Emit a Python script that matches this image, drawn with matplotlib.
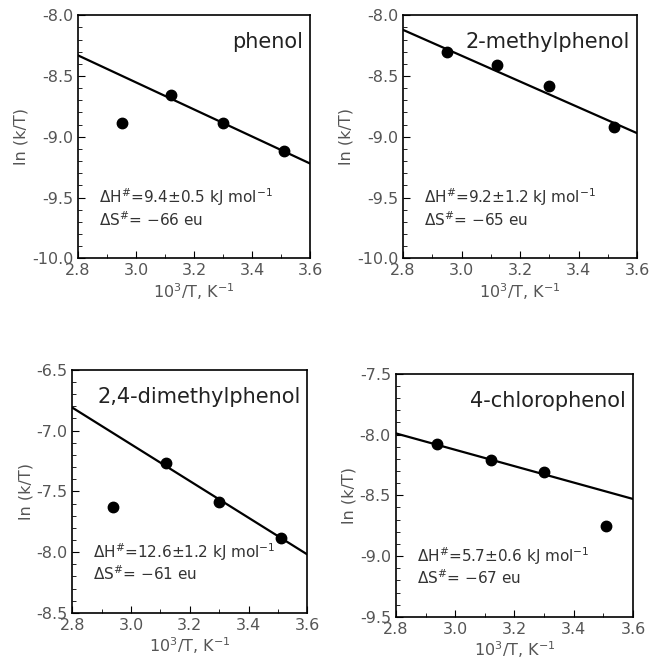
import matplotlib
matplotlib.use('Agg')
import matplotlib.pyplot as plt
from matplotlib.ticker import MultipleLocator, FormatStrFormatter

plt.rcParams['font.family'] = ['DejaVu Sans']

# data
names = ['phenol', '2-methylphenol', '2,4-dimethylphenol', '4-chlorophenol']
x_pts = [
    [2.95, 3.12, 3.30, 3.51],
    [2.95, 3.12, 3.30, 3.52],
    [2.94, 3.12, 3.30, 3.51],
    [2.94, 3.12, 3.30, 3.51],
]
y_pts = [
    [-8.89, -8.66, -8.89, -9.12],
    [-8.30, -8.41, -8.58, -8.92],
    [-7.63, -7.27, -7.59, -7.88],
    [-8.08, -8.21, -8.31, -8.75],
]
line_x = [2.8, 3.6]
line_y = [
    [-8.33, -9.22],
    [-8.12, -8.97],
    [-6.81, -8.02],
    [-7.99, -8.53],
]
y_ranges = [(-10.0, -8.0), (-10.0, -8.0), (-8.5, -6.5), (-9.5, -7.5)]
dH = ['9.4±0.5', '9.2±1.2', '12.6±1.2', '5.7±0.6']
dS = ['−66', '−65', '−61', '−67']

# axes boxes in figure fraction
boxes = [
    [0.120, 0.611, 0.357, 0.366],
    [0.620, 0.611, 0.360, 0.366],
    [0.111, 0.077, 0.362, 0.366],
    [0.609, 0.071, 0.365, 0.366],
]

fig = plt.figure(figsize=(6.5, 6.64), dpi=100)
tick_col = '#555555'

for i in range(4):
    ax = fig.add_axes(boxes[i])
    ax.plot(line_x, line_y[i], color='black', lw=1.6)
    ax.plot(x_pts[i], y_pts[i], 'o', color='black', ms=7.5)
    ax.set_xlim(2.8, 3.6)
    ax.set_ylim(*y_ranges[i])
    ax.xaxis.set_major_locator(MultipleLocator(0.2))
    ax.xaxis.set_minor_locator(MultipleLocator(0.1))
    ax.yaxis.set_major_locator(MultipleLocator(0.5))
    ax.yaxis.set_minor_locator(MultipleLocator(0.1))
    ax.xaxis.set_major_formatter(FormatStrFormatter('%.1f'))
    ax.yaxis.set_major_formatter(FormatStrFormatter('%.1f'))
    ax.tick_params(which='both', direction='in', top=False, right=False,
                   labelsize=11.5, labelcolor=tick_col)
    ax.tick_params(which='major', length=5)
    ax.tick_params(which='minor', length=3)
    for sp in ax.spines.values():
        sp.set_linewidth(1.2)
    ax.set_xlabel('10$^3$/T, K$^{-1}$', fontsize=11.5, color=tick_col, labelpad=2)
    ax.set_ylabel('ln (k/T)', fontsize=11.5, color=tick_col, labelpad=2)
    ax.text(0.97, 0.93, names[i], transform=ax.transAxes, ha='right', va='top',
            fontsize=15, color='#222222')
    ax.text(0.09, 0.25, 'ΔH$^{\\#}$=' + dH[i] + ' kJ mol$^{-1}$',
            transform=ax.transAxes, ha='left', va='center', fontsize=11,
            color='#333333')
    ax.text(0.09, 0.16, 'ΔS$^{\\#}$= ' + dS[i] + ' eu',
            transform=ax.transAxes, ha='left', va='center', fontsize=11,
            color='#333333')

fig.savefig('out.png', dpi=100)
